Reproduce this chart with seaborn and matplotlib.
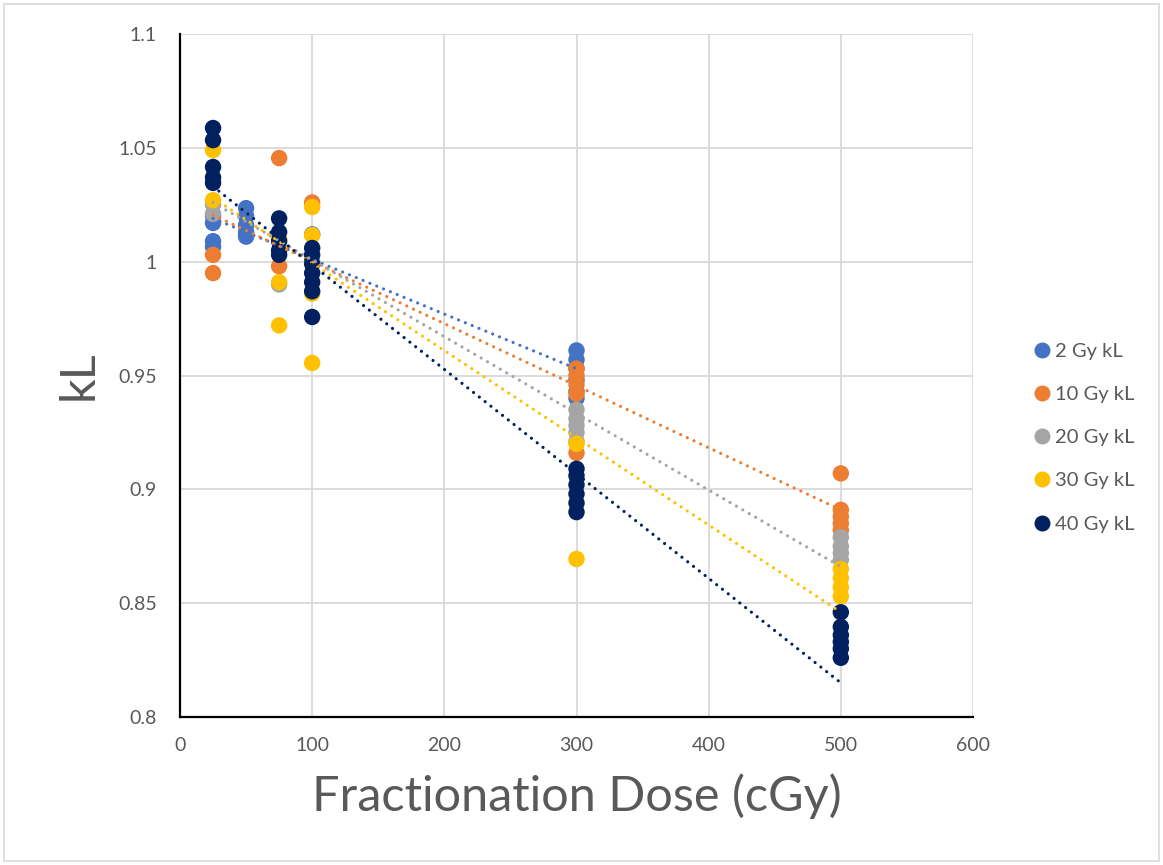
import matplotlib
matplotlib.use("Agg")
import matplotlib.pyplot as plt
from matplotlib.lines import Line2D
from matplotlib.patches import Rectangle
from matplotlib.ticker import MultipleLocator
import seaborn as sns
import pandas as pd

# ---------------- data ----------------
series_names = ["2 Gy kL", "10 Gy kL", "20 Gy kL", "30 Gy kL", "40 Gy kL"]
series_colors = ["#4472C4", "#ED7D31", "#A5A5A5", "#FFC000", "#002060"]

blue_x = [25, 25, 25, 25, 50, 50, 50, 50, 50, 100, 300, 300, 300, 300, 300, 300]
blue_y = [1.020, 1.017, 1.009, 1.0065, 1.0235, 1.020, 1.016, 1.013, 1.011, 1.012,
          0.961, 0.957, 0.953, 0.948, 0.943, 0.940]

orange_x = [25, 25, 75, 75, 100, 300, 300, 300, 300, 300, 500, 500, 500, 500, 500]
orange_y = [1.003, 0.995, 1.0455, 0.998, 1.026, 0.953, 0.950, 0.946, 0.942, 0.916,
            0.907, 0.891, 0.888, 0.885, 0.882]

gray_x = [25, 25, 75, 100, 300, 300, 300, 300, 300, 500, 500, 500, 500]
gray_y = [1.025, 1.021, 0.990, 1.000, 0.935, 0.931, 0.928, 0.925, 0.921,
          0.879, 0.875, 0.872, 0.869]

yellow_x = [25, 25, 75, 75, 75, 100, 100, 100, 100, 300, 300, 500, 500, 500, 500]
yellow_y = [1.049, 1.027, 1.010, 0.991, 0.972, 1.024, 1.0117, 0.986, 0.9555,
            0.920, 0.8694, 0.865, 0.861, 0.857, 0.853]

navy_x = [25, 25, 25, 25, 25, 75, 75, 75, 75, 75, 100, 100, 100, 100, 100, 100, 100,
          300, 300, 300, 300, 300, 300, 500, 500, 500, 500, 500, 500]
navy_y = [1.0587, 1.0534, 1.0416, 1.037, 1.0346, 1.019, 1.013, 1.009, 1.005, 1.003,
          1.006, 1.003, 0.999, 0.995, 0.991, 0.987, 0.9757,
          0.909, 0.906, 0.902, 0.898, 0.894, 0.890,
          0.846, 0.8396, 0.836, 0.833, 0.830, 0.826]

# linear trend lines (value at first and last dose)
trend_x_start = [25, 25, 25, 25, 25]
trend_x_end = [300, 500, 500, 500, 500]
trend_y_start = [1.019, 1.0205, 1.026, 1.028, 1.033]
trend_y_end = [0.953, 0.891, 0.866, 0.846, 0.815]

x_ticks = [0, 100, 200, 300, 400, 500, 600]
y_ticks = [0.8, 0.85, 0.9, 0.95, 1.0, 1.05, 1.1]
y_tick_labels = ["0.8", "0.85", "0.9", "0.95", "1", "1.05", "1.1"]

# ---------------- frame ----------------
xs = [blue_x, orange_x, gray_x, yellow_x, navy_x]
ys = [blue_y, orange_y, gray_y, yellow_y, navy_y]
rows = []
for name, xx, yy in zip(series_names, xs, ys):
    for a, b in zip(xx, yy):
        rows.append({"dose": a, "kL": b, "series": name})
df = pd.DataFrame(rows)

trend_rows = []
for name, x0, x1, y0, y1 in zip(series_names, trend_x_start, trend_x_end, trend_y_start, trend_y_end):
    trend_rows.append({"dose": x0, "kL": y0, "series": name})
    trend_rows.append({"dose": x1, "kL": y1, "series": name})
tdf = pd.DataFrame(trend_rows)

sns.set_style("white")
plt.rcParams["font.family"] = ["Lato", "DejaVu Sans"]

fig = plt.figure(figsize=(11.63, 8.65), dpi=100)
ax = fig.add_axes([180 / 1163, 1 - 717 / 865, (973 - 180) / 1163, (717 - 34) / 865])

palette = dict(zip(series_names, series_colors))
sns.scatterplot(data=df, x="dose", y="kL", hue="series", hue_order=series_names,
                palette=palette, s=140, linewidth=0, edgecolor="none", alpha=1,
                legend=False, ax=ax, zorder=3)

for name in series_names:
    sub = tdf[tdf["series"] == name]
    sns.lineplot(data=sub, x="dose", y="kL", color=palette[name], ax=ax,
                 linewidth=2.3, linestyle=(0, (0.01, 2.3)), dash_capstyle="round",
                 legend=False, zorder=4, estimator=None, sort=False)

ax.set_xlim(0, 600)
ax.set_ylim(0.8, 1.1)
ax.set_xticks(x_ticks)
ax.set_yticks(y_ticks)
ax.xaxis.set_minor_locator(MultipleLocator(20))
ax.yaxis.set_minor_locator(MultipleLocator(0.01))
ax.set_yticklabels(y_tick_labels)

ax.grid(True, which="major", color="#D9D9D9", linewidth=1.3, zorder=0)
ax.set_axisbelow(True)
for sp in ["top", "right"]:
    ax.spines[sp].set_visible(False)
for sp in ["left", "bottom"]:
    ax.spines[sp].set_color("black")
    ax.spines[sp].set_linewidth(1.6)
    ax.spines[sp].set_zorder(5)

ax.tick_params(axis="both", which="major", direction="inout", length=9, width=1.6,
               color="black", labelsize=14, labelcolor="#595959")
ax.tick_params(axis="both", which="minor", direction="in", length=5, width=1.3,
               color="black")
ax.tick_params(axis="y", which="major", pad=12)
ax.tick_params(axis="x", which="major", pad=10)

ax.set_xlabel("Fractionation Dose (cGy)", fontsize=35, color="#595959", labelpad=14)
ax.set_ylabel("kL", fontsize=35, color="#595959", labelpad=13)

handles = [Line2D([0], [0], marker="o", linestyle="none", markersize=11.5,
                  markerfacecolor=c, markeredgewidth=0) for c in series_colors]
fig.legend(handles, series_names, loc="upper left", bbox_to_anchor=(0.87, 0.625),
           frameon=False, fontsize=14.5, labelspacing=1.3, handletextpad=0.05,
           handlelength=1.2, labelcolor="#595959")

fig.patches.append(Rectangle((4 / 1163, 4 / 865), 1 - 8 / 1163, 1 - 8 / 865,
                             transform=fig.transFigure, fill=False,
                             edgecolor="#D9D9D9", linewidth=1.2))

fig.savefig("out.png", dpi=100)
